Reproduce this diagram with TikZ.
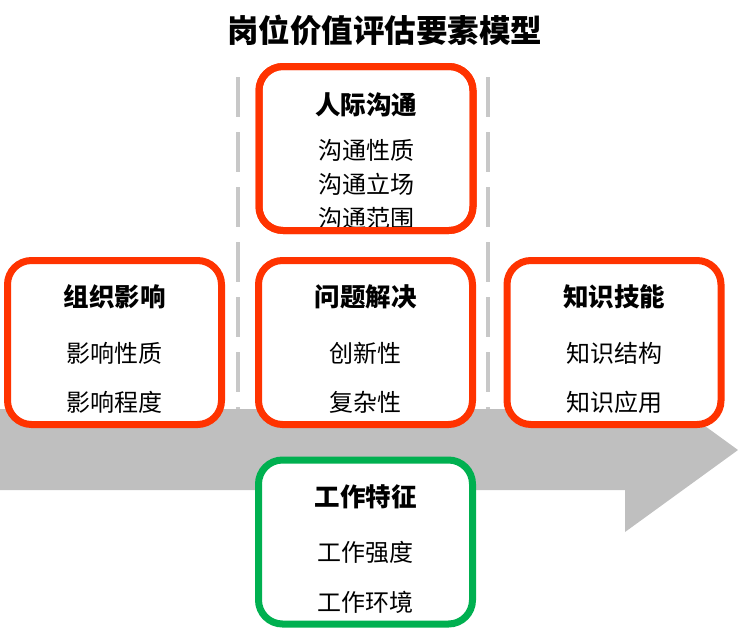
\documentclass[tikz,border=0pt]{standalone}
\usepackage{fontspec}
\setmainfont{Noto Sans CJK SC}
\begin{document}
\begin{tikzpicture}[x=1pt,y=-1pt,
  boxbase/.style={rounded corners=24pt, line width=7pt, minimum width=214pt, minimum height=164pt, inner sep=0pt},
  redbox/.style={boxbase, draw=boxred, fill=white},
  greenbox/.style={boxbase, draw=boxgreen, fill=white},
  btitle/.style={font=\fontsize{25.5}{25.5}\selectfont\bfseries, inner sep=0pt},
  bitem/.style={font=\fontsize{24}{24}\selectfont, inner sep=0pt},
  dashline/.style={draw=dashgray, line width=4pt, dash pattern=on 40pt off 15pt}
]
\definecolor{boxred}{HTML}{FF3300}
\definecolor{boxgreen}{HTML}{00B050}
\definecolor{arrowgray}{HTML}{BFBFBF}
\definecolor{dashgray}{HTML}{C8C8C8}
\useasboundingbox (0,0) rectangle (738,627);
% title
\node[font=\fontsize{31.5}{31.5}\selectfont\bfseries, inner sep=0pt] (title) at (384.5,30) {岗位价值评估要素模型};
% dashed guides
\coordinate (dl1) at (238,77); \coordinate (dl2) at (238,420);
\coordinate (dr1) at (488,77); \coordinate (dr2) at (488,420);
\draw[dashline] (dl1) -- (dl2);
\draw[dashline] (dr1) -- (dr2);
% big arrow
\fill[arrowgray] (0,409) -- (625,409) -- (625,368) -- (738,450) -- (625,532) -- (625,490) -- (0,490) -- cycle;
% boxes
\node[redbox] (top) at (366,148.5) {};
\node[redbox] (left) at (114.5,342.5) {};
\node[redbox] (mid) at (365.5,342.5) {};
\node[redbox] (right) at (614,342.5) {};
\node[greenbox] (work) at (365.5,542) {};
% top box texts
\node[btitle] (t1) at (366,105) {人际沟通};
\node[bitem] (t1a) at (366,150) {沟通性质};
\node[bitem] (t1b) at (366,184) {沟通立场};
\node[bitem] (t1c) at (366,218) {沟通范围};
\node[redbox, fill=none] (topborder) at (top) {};
% left box
\node[btitle] (t2) at (114.5,297) {组织影响};
\node[bitem] (t2a) at (114.5,353) {影响性质};
\node[bitem] (t2b) at (114.5,402) {影响程度};
% middle box
\node[btitle] (t3) at (365.5,297) {问题解决};
\node[bitem] (t3a) at (365.5,353) {创新性};
\node[bitem] (t3b) at (365.5,402) {复杂性};
% right box
\node[btitle] (t4) at (614,297) {知识技能};
\node[bitem] (t4a) at (614,353) {知识结构};
\node[bitem] (t4b) at (614,402) {知识应用};
% green box
\node[btitle] (t5) at (365.5,497) {工作特征};
\node[bitem] (t5a) at (365.5,552) {工作强度};
\node[bitem] (t5b) at (365.5,602) {工作环境};
\end{tikzpicture}
\end{document}
